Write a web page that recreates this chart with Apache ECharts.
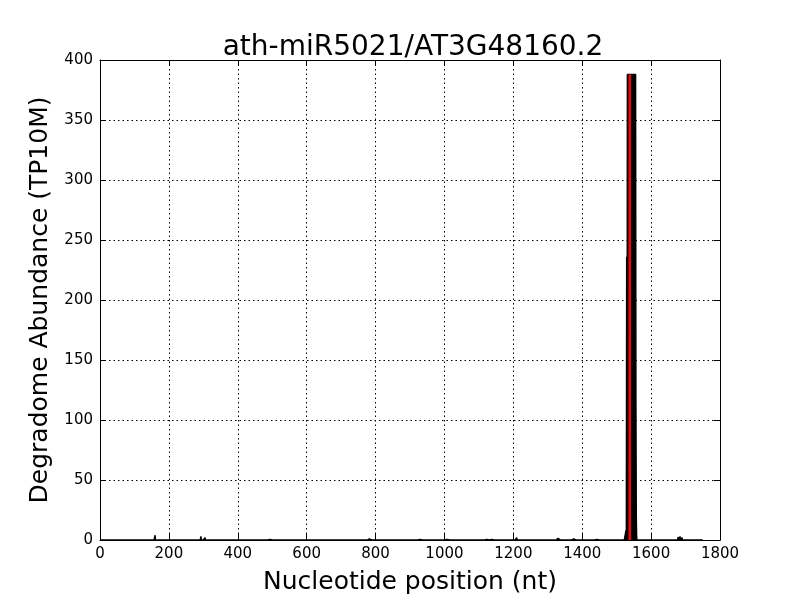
<!DOCTYPE html>
<html>
<head>
<meta charset="utf-8">
<script src="https://cdn.jsdelivr.net/npm/echarts@6/dist/echarts.min.js"></script>
<style>html,body{margin:0;padding:0;background:#fff;}#c{width:800px;height:600px;}</style>
</head>
<body>
<div id="c"></div>
<script>
const titleText = "ath-miR5021/AT3G48160.2";
const xLabel = "Nucleotide position (nt)";
const yLabel = "Degradome Abundance (TP10M)";
const xTicks = [0, 200, 400, 600, 800, 1000, 1200, 1400, 1600, 1800];
const yTicks = [0, 50, 100, 150, 200, 250, 300, 350, 400];
const transcriptLength = 1750;

// Non-zero degradome abundances (position, value)
const smallPositions = [160, 237, 278, 293, 305, 455, 493, 662, 687, 703, 720, 762, 772, 782, 822, 842, 862, 876,
  900, 929, 975, 983, 991, 1007, 1074, 1123, 1137, 1210, 1234, 1263, 1277, 1330, 1350, 1362, 1375, 1390, 1442, 1490,
  1568, 1577, 1620, 1679, 1684, 1690, 1713, 1720, 1727];
const smallValues = [4, 1, 1.5, 3, 2, 0.5, 0.5, 0.5, 1, 1.5, 0.5, 1, 1, 1, 0.5, 0.5, 0.5, 0.5,
  0.5, 0.5, 1, 1, 1, 0.5, 1, 0.5, 0.5, 2, 0.5, 0.5, 0.5, 1.5, 1, 1, 1, 1, 0.5, 0.5,
  1.5, 0.5, 0.5, 2.5, 3, 2, 0.5, 0.5, 0.5];
const peakPositions = [1526, 1527, 1528, 1529, 1530, 1531, 1532, 1533, 1534, 1535, 1536, 1537, 1538, 1539, 1540,
  1541, 1542, 1543, 1544, 1545, 1546, 1547, 1548, 1549, 1550, 1551, 1552, 1553, 1554, 1555, 1556, 1557, 1558];
const peakValues = [1, 8, 0, 236, 0, 388, 388, 388, 388, 388, 388, 388, 388, 388, 388,
  388, 388, 388, 388, 388, 388, 388, 388, 388, 388, 388, 388, 388, 388, 388, 115, 21, 3];

// Cleavage site (red)
const sitePosition = 1538;
const siteValue = 388;

const abundance = new Array(transcriptLength + 1).fill(0);
smallPositions.forEach((p, i) => { abundance[p] = smallValues[i]; });
peakPositions.forEach((p, i) => { abundance[p] = peakValues[i]; });
const blackData = abundance.map((v, i) => [i, v]).slice(1);
const redData = [[sitePosition, 0], [sitePosition, siteValue]];

const font = "DejaVu Sans";
const chart = echarts.init(document.getElementById('c'), null, {renderer: 'canvas'});
const axisCommon = {
  type: 'value',
  axisLine: {show: true, onZero: false, lineStyle: {color: '#000', width: 1}},
  axisTick: {show: true, inside: true, length: 6, lineStyle: {color: '#000', width: 1}},
};
const plain = v => String(v);
chart.setOption({
  animation: false,
  backgroundColor: '#fff',
  title: {
    text: titleText, left: 408, top: 28, textAlign: 'center',
    textStyle: {fontFamily: font, fontSize: 28, fontWeight: 'normal', color: '#000', lineHeight: 30}
  },
  grid: {left: 100, right: 80, top: 60, bottom: 60, containLabel: false},
  xAxis: [
    Object.assign({}, axisCommon, {
      min: xTicks[0], max: xTicks[xTicks.length - 1], interval: xTicks[1] - xTicks[0], position: 'bottom',
      name: xLabel, nameLocation: 'middle', nameGap: 30,
      nameTextStyle: {fontFamily: font, fontSize: 25, color: '#000'},
      axisLabel: {show: true, fontFamily: font, fontSize: 15, color: '#000', margin: 7, formatter: plain},
      splitLine: {show: true, lineStyle: {color: '#000', type: [1.5, 3], width: 1}}
    }),
    Object.assign({}, axisCommon, {
      min: xTicks[0], max: xTicks[xTicks.length - 1], interval: xTicks[1] - xTicks[0], position: 'top',
      axisLabel: {show: false}, splitLine: {show: false}
    })
  ],
  yAxis: [
    Object.assign({}, axisCommon, {
      min: yTicks[0], max: yTicks[yTicks.length - 1], interval: yTicks[1] - yTicks[0], position: 'left',
      name: yLabel, nameLocation: 'middle', nameGap: 44,
      nameTextStyle: {fontFamily: font, fontSize: 25, color: '#000'},
      axisLabel: {show: true, fontFamily: font, fontSize: 15, color: '#000', margin: 7, formatter: plain},
      splitLine: {show: true, lineStyle: {color: '#000', type: [1.5, 3], width: 1}}
    }),
    Object.assign({}, axisCommon, {
      min: yTicks[0], max: yTicks[yTicks.length - 1], interval: yTicks[1] - yTicks[0], position: 'right',
      axisLabel: {show: false}, splitLine: {show: false}
    })
  ],
  series: [
    {
      type: 'line', data: blackData, xAxisIndex: 0, yAxisIndex: 0,
      showSymbol: false, symbol: 'none', silent: true,
      lineStyle: {color: '#000', width: 1.4},
      areaStyle: {color: '#000', opacity: 1},
      z: 3
    },
    {
      type: 'line', data: redData, xAxisIndex: 0, yAxisIndex: 0,
      showSymbol: false, symbol: 'none', silent: true,
      lineStyle: {color: '#ff0000', width: 2.5}, z: 4
    }
  ]
});
</script>
</body>
</html>
